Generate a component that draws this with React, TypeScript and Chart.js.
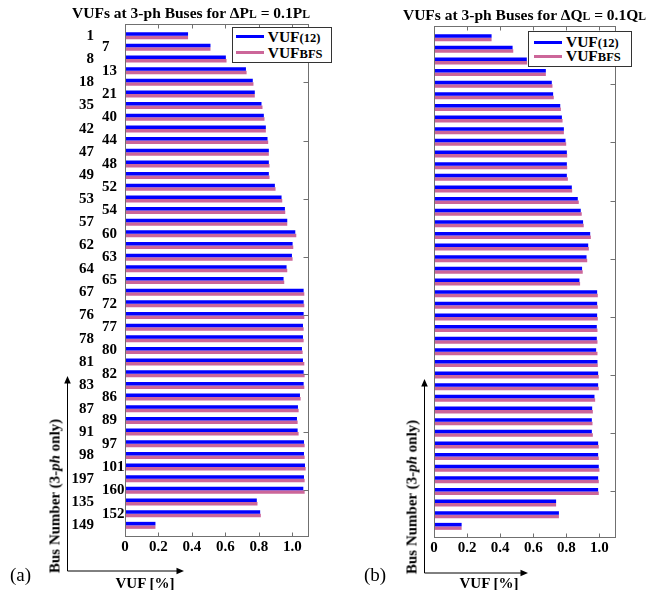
import React, { useEffect, useRef } from 'react';
import { Chart, registerables } from 'chart.js';

Chart.register(...registerables);

const buses = ['1', '7', '8', '13', '18', '21', '35', '40', '42', '44', '47', '48', '49', '52', '53', '54', '57', '60', '62', '63', '64', '65', '67', '72', '76', '77', '78', '80', '81', '82', '83', '86', '87', '89', '91', '97', '98', '101', '197', '160', '135', '152', '149'];

const vufA12 = [0.377, 0.511, 0.603, 0.723, 0.764, 0.776, 0.816, 0.830, 0.842, 0.852, 0.860, 0.860, 0.860, 0.896, 0.936, 0.956, 0.970, 1.018, 1.002, 0.998, 0.966, 0.948, 1.068, 1.068, 1.068, 1.064, 1.064, 1.058, 1.064, 1.068, 1.068, 1.046, 1.034, 1.028, 1.032, 1.070, 1.070, 1.076, 1.070, 1.066, 0.788, 0.808, 0.182];
const vufABfs = [0.377, 0.511, 0.607, 0.727, 0.768, 0.776, 0.822, 0.834, 0.842, 0.856, 0.860, 0.864, 0.864, 0.900, 0.940, 0.958, 0.970, 1.024, 1.006, 1.002, 0.970, 0.952, 1.072, 1.072, 1.072, 1.068, 1.068, 1.062, 1.072, 1.074, 1.072, 1.050, 1.038, 1.032, 1.038, 1.074, 1.074, 1.080, 1.074, 1.074, 0.792, 0.812, 0.182];

const vufB12 = [0.348, 0.475, 0.561, 0.676, 0.712, 0.720, 0.763, 0.773, 0.785, 0.795, 0.803, 0.803, 0.803, 0.833, 0.869, 0.887, 0.901, 0.944, 0.932, 0.922, 0.895, 0.879, 0.986, 0.986, 0.986, 0.984, 0.984, 0.980, 0.988, 0.992, 0.992, 0.970, 0.956, 0.954, 0.954, 0.992, 0.992, 0.996, 0.992, 0.992, 0.738, 0.755, 0.167];
const vufBBfs = [0.348, 0.479, 0.563, 0.676, 0.716, 0.724, 0.767, 0.777, 0.785, 0.799, 0.805, 0.805, 0.809, 0.835, 0.875, 0.893, 0.905, 0.948, 0.936, 0.926, 0.899, 0.883, 0.990, 0.990, 0.990, 0.988, 0.988, 0.988, 0.990, 0.996, 0.996, 0.974, 0.960, 0.958, 0.960, 0.996, 0.996, 1.000, 0.996, 0.996, 0.738, 0.755, 0.167];

const xTickValues = [0, 0.2, 0.4, 0.6, 0.8, 1.0];
const xTickLabels = ['0', '0.2', '0.4', '0.6', '0.8', '1.0'];
const yTickMarks = [5, 10, 15, 20, 25, 30, 35, 40];

const BLUE = '#0000ff';
const PINK = '#cc6699';
const FONT = "'Liberation Serif', 'Times New Roman', serif";

// one empty category above and below the buses (axis runs 0..44)
const padLabels = ['', ...buses, ''];
const padData = (arr: number[]) => [null, ...arr, null];

const framePlugin = {
  id: 'frame',
  afterDatasetsDraw(chart: any) {
    const { ctx, chartArea: a, scales } = chart;
    ctx.save();
    ctx.strokeStyle = '#707070';
    ctx.lineWidth = 1;
    const L = Math.round(a.left) + 0.5;
    const R = Math.round(a.right) - 0.5;
    const T = Math.round(a.top) + 0.5;
    const B = Math.round(a.bottom) - 0.5;
    ctx.strokeRect(L, T, R - L, B - T);
    ctx.beginPath();
    for (const v of xTickValues) {
      const px = Math.round(scales.x.getPixelForValue(v)) + 0.5;
      ctx.moveTo(px, B);
      ctx.lineTo(px, B - 4);
      ctx.moveTo(px, T);
      ctx.lineTo(px, T + 4);
    }
    for (const i of yTickMarks) {
      const py = Math.round(scales.y.getPixelForValue(i)) + 0.5;
      ctx.moveTo(R, py);
      ctx.lineTo(R - 5, py);
    }
    ctx.stroke();
    ctx.restore();
  },
};

function buildConfig(v12: number[], vBfs: number[], withLabels: boolean, pad: any, yWidth: number) {
  const tickFont = { family: FONT, size: 15, weight: 'bold' as const };
  const noGrid = { display: false, drawTicks: false };
  const scales: any = {
    x: {
      type: 'linear',
      position: 'bottom',
      min: 0,
      max: 1.1,
      grid: noGrid,
      border: { display: false },
      ticks: {
        stepSize: 0.2,
        includeBounds: false,
        padding: 1,
        color: '#000',
        font: tickFont,
        callback: (value: number) => {
          const idx = xTickValues.findIndex((t) => Math.abs(t - value) < 1e-6);
          return idx >= 0 ? xTickLabels[idx] : null;
        },
      },
      afterFit: (s: any) => {
        s.height = 590 - pad.bottomEdge;
      },
    },
    y: {
      type: 'category',
      position: 'left',
      weight: 0,
      offset: false,
      grid: noGrid,
      border: { display: false },
      ticks: {
        display: withLabels,
        autoSkip: false,
        crossAlign: 'far',
        padding: 0,
        color: '#000',
        font: tickFont,
        callback: (value: number) => (value % 2 === 0 && value > 0 && value < 44 ? padLabels[value] : ''),
      },
      afterFit: (s: any) => {
        s.width = yWidth;
      },
    },
  };
  if (withLabels) {
    scales.y2 = {
      type: 'category',
      position: 'left',
      weight: 1,
      offset: false,
      grid: noGrid,
      border: { display: false },
      ticks: {
        autoSkip: false,
        crossAlign: 'near',
        padding: 8,
        color: '#000',
        font: tickFont,
        callback: (value: number) => (value % 2 === 1 && value < 44 ? padLabels[value] : ''),
      },
      afterFit: (s: any) => {
        s.width = 102;
      },
    };
  }
  return {
    type: 'bar' as const,
    data: {
      labels: padLabels,
      datasets: [
        { label: 'VUF(12)', data: padData(v12), backgroundColor: BLUE, categoryPercentage: 0.6, barPercentage: 1, xAxisID: 'x', yAxisID: 'y' },
        { label: 'VUFBFS', data: padData(vBfs), backgroundColor: PINK, categoryPercentage: 0.6, barPercentage: 1, xAxisID: 'x', yAxisID: 'y' },
      ],
    },
    options: {
      indexAxis: 'y' as const,
      responsive: false,
      animation: false as const,
      layout: { padding: { top: pad.top, right: pad.right, bottom: 0, left: 0 } },
      plugins: { legend: { display: false }, tooltip: { enabled: false }, title: { display: false } },
      scales,
    },
    plugins: [framePlugin],
  };
}

function ChartCanvas({ left, width, cfg }: { left: number; width: number; cfg: () => any }) {
  const ref = useRef<HTMLCanvasElement>(null);
  useEffect(() => {
    if (!ref.current) return;
    const chart = new Chart(ref.current, cfg());
    return () => chart.destroy();
  }, []);
  return <canvas ref={ref} width={width} height={590} style={{ position: 'absolute', left, top: 0, width, height: 590 }} />;
}

function Legend({ left, top, width, height, rows, swX, txtX }: any) {
  return (
    <div style={{ position: 'absolute', left, top, width, height, boxSizing: 'border-box', border: '1px solid #333', background: '#fff' }}>
      {rows.map((r: any, i: number) => (
        <React.Fragment key={i}>
          <div style={{ position: 'absolute', left: swX, top: r.y - 1.5, width: 27.7, height: 3, background: r.color }} />
          <div style={{ position: 'absolute', left: txtX, top: r.y, transform: 'translateY(-50%)', fontFamily: FONT, fontWeight: 'bold', fontSize: 15.5, lineHeight: 1, whiteSpace: 'nowrap', color: '#000' }}>
            VUF<span style={{ fontSize: 12.5 }}>{r.sub}</span>
          </div>
        </React.Fragment>
      ))}
    </div>
  );
}

const textStyle = (cx: number, cy: number, size: number, bold: boolean, rotate = false): React.CSSProperties => ({
  position: 'absolute',
  left: cx,
  top: cy,
  transform: `translate(-50%, -50%)${rotate ? ' rotate(-90deg)' : ''}`,
  fontFamily: FONT,
  fontSize: size,
  fontWeight: bold ? 'bold' : 'normal',
  lineHeight: 1,
  whiteSpace: 'nowrap',
  color: '#000',
});

function Arrows() {
  return (
    <svg width={647} height={590} style={{ position: 'absolute', left: 0, top: 0, pointerEvents: 'none' }}>
      <g stroke="#000" strokeWidth={1} fill="none">
        <line x1={67.5} y1={571} x2={67.5} y2={382} />
        <line x1={67.5} y1={571} x2={178} y2={571} />
        <line x1={424.5} y1={573} x2={424.5} y2={385} />
        <line x1={424.5} y1={573} x2={522} y2={573} />
      </g>
      <g fill="#000">
        <polygon points="67.5,376 64.2,383.5 70.8,383.5" />
        <polygon points="184,571 176.5,567.7 176.5,574.3" />
        <polygon points="424.5,379 421.2,386.5 427.8,386.5" />
        <polygon points="528,573 520.5,569.7 520.5,576.3" />
      </g>
    </svg>
  );
}

export default function App() {
  const small = { fontSize: '0.75em' };
  return (
    <div style={{ position: 'fixed', left: 0, top: 0, width: 647, height: 590, background: '#fff', overflow: 'hidden' }}>
      <ChartCanvas left={0} width={330} cfg={() => buildConfig(vufA12, vufABfs, true, { top: 24, right: 21, bottomEdge: 537 }, 23)} />
      <ChartCanvas left={330} width={317} cfg={() => buildConfig(vufB12, vufBBfs, false, { top: 26, right: 31, bottomEdge: 538 }, 104)} />

      <div style={textStyle(191, 12.5, 15.5, true)}>
        VUFs at 3-ph Buses for ΔP<span style={small}>L</span> = 0.1P<span style={small}>L</span>
      </div>
      <div style={textStyle(524.5, 15, 15.5, true)}>
        VUFs at 3-ph Buses for ΔQ<span style={small}>L</span> = 0.1Q<span style={small}>L</span>
      </div>

      <Legend left={231.7} top={26.7} width={100} height={36} swX={3.3} txtX={35}
        rows={[{ y: 9.3, color: BLUE, sub: '(12)' }, { y: 25, color: PINK, sub: 'BFS' }]} />
      <Legend left={528.3} top={31.3} width={103.4} height={35.7} swX={4.7} txtX={36.7}
        rows={[{ y: 10, color: BLUE, sub: '(12)' }, { y: 24, color: PINK, sub: 'BFS' }]} />

      <Arrows />

      <div style={textStyle(54.5, 496, 15, true, true)}>
        Bus Number (3-<i>ph</i> only)
      </div>
      <div style={textStyle(412, 497, 15, true, true)}>
        Bus Number (3-<i>ph</i> only)
      </div>
      <div style={textStyle(145, 582.5, 15, true)}>VUF [%]</div>
      <div style={textStyle(489, 582.5, 15, true)}>VUF [%]</div>
      <div style={textStyle(20.5, 574, 19, false)}>(a)</div>
      <div style={textStyle(375, 574, 19, false)}>(b)</div>
    </div>
  );
}
